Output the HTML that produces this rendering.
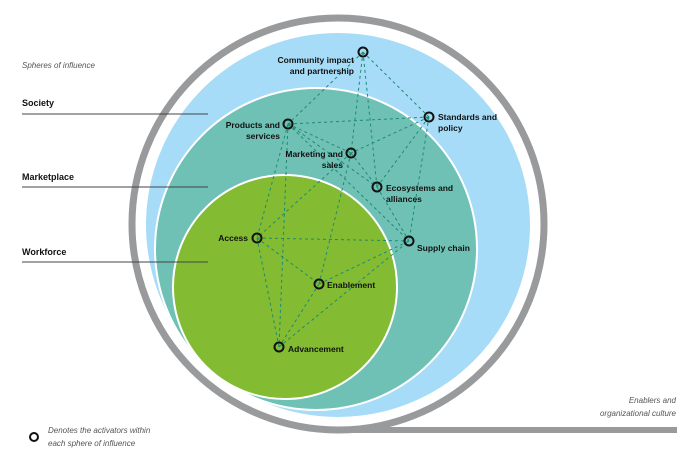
<!DOCTYPE html>
<html><head><style>body{margin:0;background:#fff}svg{display:block}</style></head><body>
<svg width="693" height="466" viewBox="0 0 693 466" xmlns="http://www.w3.org/2000/svg" font-family="Liberation Sans, sans-serif">
<circle cx="338" cy="224" r="206" fill="none" stroke="#999a9c" stroke-width="7"/>
<line x1="338" y1="430" x2="677" y2="430" stroke="#999a9c" stroke-width="6"/>
<circle cx="338" cy="225" r="193" fill="#a6dcf8" stroke="#fff" stroke-width="2"/>
<circle cx="316" cy="249" r="161" fill="#70c1b5" stroke="#fff" stroke-width="2"/>
<circle cx="285" cy="287" r="112" fill="#83bb33" stroke="#fff" stroke-width="2"/>
<g stroke="#1f8a70" stroke-width="1" stroke-dasharray="3,3" fill="none">
<path d="M363 52L288 124M363 52L351 153M363 52L377 187M363 52L429 117
M288 124L429 117M288 124L351 153M288 124L377 187M288 124L409 241M288 124L279 347M288 124L257 238
M429 117L351 153M429 117L377 187M429 117L409 241
M351 153L377 187M351 153L257 238M351 153L319 284
M377 187L409 241
M257 238L409 241M257 238L319 284M257 238L279 347
M319 284L409 241M319 284L279 347M279 347L409 241"/>
</g>
<g fill="none" stroke="#111" stroke-width="2">
<circle cx="363" cy="52" r="4.5"/><circle cx="429" cy="117" r="4.5"/><circle cx="288" cy="124" r="4.5"/>
<circle cx="351" cy="153" r="4.5"/><circle cx="377" cy="187" r="4.5"/><circle cx="409" cy="241" r="4.5"/>
<circle cx="257" cy="238" r="4.5"/><circle cx="319" cy="284" r="4.5"/><circle cx="279" cy="347" r="4.5"/>
<circle cx="34" cy="437" r="4"/>
</g>
<g font-size="8.5" font-weight="bold" fill="#111">
<text x="354" y="63" text-anchor="end">Community impact</text>
<text x="354" y="74" text-anchor="end">and partnership</text>
<text x="438" y="120">Standards and</text>
<text x="438" y="131">policy</text>
<text x="280" y="128" text-anchor="end">Products and</text>
<text x="280" y="139" text-anchor="end">services</text>
<text x="343" y="157" text-anchor="end">Marketing and</text>
<text x="343" y="168" text-anchor="end">sales</text>
<text x="386" y="191">Ecosystems and</text>
<text x="386" y="202">alliances</text>
<text x="417" y="251">Supply chain</text>
<text x="248" y="241" text-anchor="end">Access</text>
<text x="327" y="288">Enablement</text>
<text x="288" y="352">Advancement</text>
<text x="22" y="106" font-size="9">Society</text>
<text x="22" y="180" font-size="9">Marketplace</text>
<text x="22" y="255" font-size="9">Workforce</text>
</g>
<g stroke="#444" stroke-width="1">
<line x1="22" y1="114" x2="208" y2="114"/><line x1="22" y1="187" x2="208" y2="187"/><line x1="22" y1="262" x2="208" y2="262"/>
</g>
<g font-size="8" font-style="italic" fill="#555">
<text x="22" y="68">Spheres of influence</text>
<text x="48" y="433">Denotes the activators within</text>
<text x="48" y="446">each sphere of influence</text>
<text x="676" y="403" text-anchor="end">Enablers and</text>
<text x="676" y="416" text-anchor="end">organizational culture</text>
</g>
</svg>
</body></html>
